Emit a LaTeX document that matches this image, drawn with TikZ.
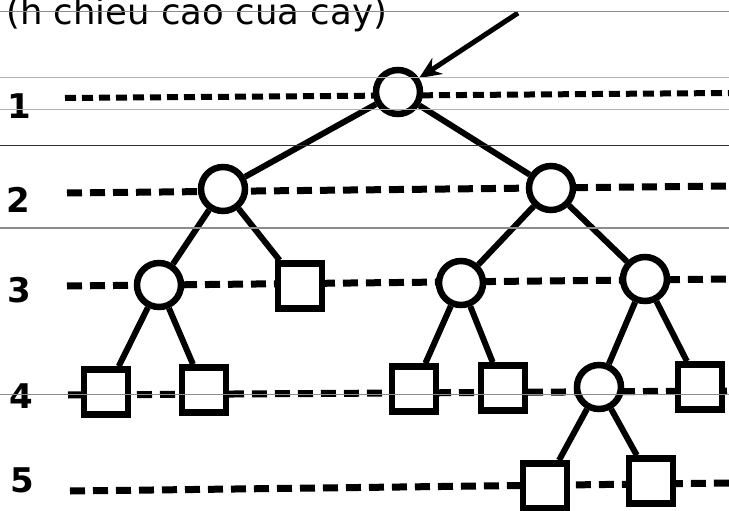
\documentclass[tikz,border=0pt]{standalone}
\usepackage{fontspec}
\setmainfont{DejaVu Sans}
\usetikzlibrary{arrows.meta}

\begin{document}
\begin{tikzpicture}[x=1pt, y=-1pt,
        knot/.style={circle, draw, fill=white, line width=6.5pt, minimum size=44pt, inner sep=0pt},
        leaf/.style={rectangle, draw, fill=white, line width=6.5pt, minimum width=44pt, minimum height=45pt, inner sep=0pt},
        edge/.style={line width=6pt},
        levelline/.style={line width=7pt, dash pattern=on 15pt off 8pt},
        scanline/.style={black!45, line width=1pt},
        depth/.style={font=\bfseries\fontsize{34}{36}\selectfont, inner sep=0pt},
        pointer/.style={line width=5pt, -{Stealth[length=22pt, width=19pt]}}]
        \useasboundingbox (0,0) rectangle (729,511);
        \clip (0,0) rectangle (729,511);
        % Caption
        \node [anchor=base west, inner sep=0pt, font=\fontsize{35.5}{40}\selectfont] (title) at (6,25) {(h chieu cao cua cay)};
        % Depth numbers
        \node [depth] (d1) at (19,106) {1};
        \node [depth] (d2) at (18,200) {2};
        \node [depth] (d3) at (19,290) {3};
        \node [depth] (d4) at (21,396) {4};
        \node [depth] (d5) at (22,480) {5};
        % Dashed levels
        \draw [levelline, line width=6pt, dash pattern=on 11pt off 6pt] (65,98) -- (729,93);
        \draw [levelline] (67,193) -- (729,186);
        \draw [levelline] (67,286) -- (729,279);
        \draw [levelline] (68,395) -- (729,391);
        \draw [levelline] (70,491) -- (729,483);
        % Level 1 and 2
        \node [knot] (r) at (398,92) {};
        \node [knot] (a) at (223,189) {};
        \node [knot] (b) at (551,188) {};
        % Level 3
        \node [knot] (c) at (159,285) {};
        \node [leaf] (d) at (300,286) {};
        \node [knot] (e) at (461,283) {};
        \node [knot] (f) at (645,279) {};
        % Level 4
        \node [leaf] (g) at (106,392) {};
        \node [leaf] (h) at (204,390) {};
        \node [leaf] (i) at (414,389) {};
        \node [leaf] (j) at (503,388) {};
        \node [knot] (k) at (599,387) {};
        \node [leaf] (l) at (700,387) {};
        % Level 5
        \node [leaf] (m) at (545,486) {};
        \node [leaf] (n) at (651,481) {};
        % Edges
        \draw [edge] (r) -- (a);
        \draw [edge] (r) -- (b);
        \draw [edge] (a) -- (c);
        \draw [edge] (a) -- (d);
        \draw [edge] (b) -- (e);
        \draw [edge] (b) -- (f);
        \draw [edge] (c) -- (g);
        \draw [edge] (c) -- (h);
        \draw [edge] (e) -- (i);
        \draw [edge] (e) -- (j);
        \draw [edge] (f) -- (k);
        \draw [edge] (f) -- (l);
        \draw [edge] (k) -- (m);
        \draw [edge] (k) -- (n);
        % Arrow to the root
        \coordinate (tail) at (518,13);
        \draw [pointer] (tail) -- (r);
        % Ruled lines
        \draw [scanline] (0,12) -- (729,12);
        \draw [scanline, black!30] (0,78) -- (729,78);
        \draw [scanline, black!30] (0,110) -- (729,110);
        \draw [scanline, black!80] (0,145) -- (729,145);
        \draw [scanline, line width=1.5pt] (0,228) -- (729,228);
        \draw [scanline] (0,394) -- (729,394);
\end{tikzpicture}
\end{document}
